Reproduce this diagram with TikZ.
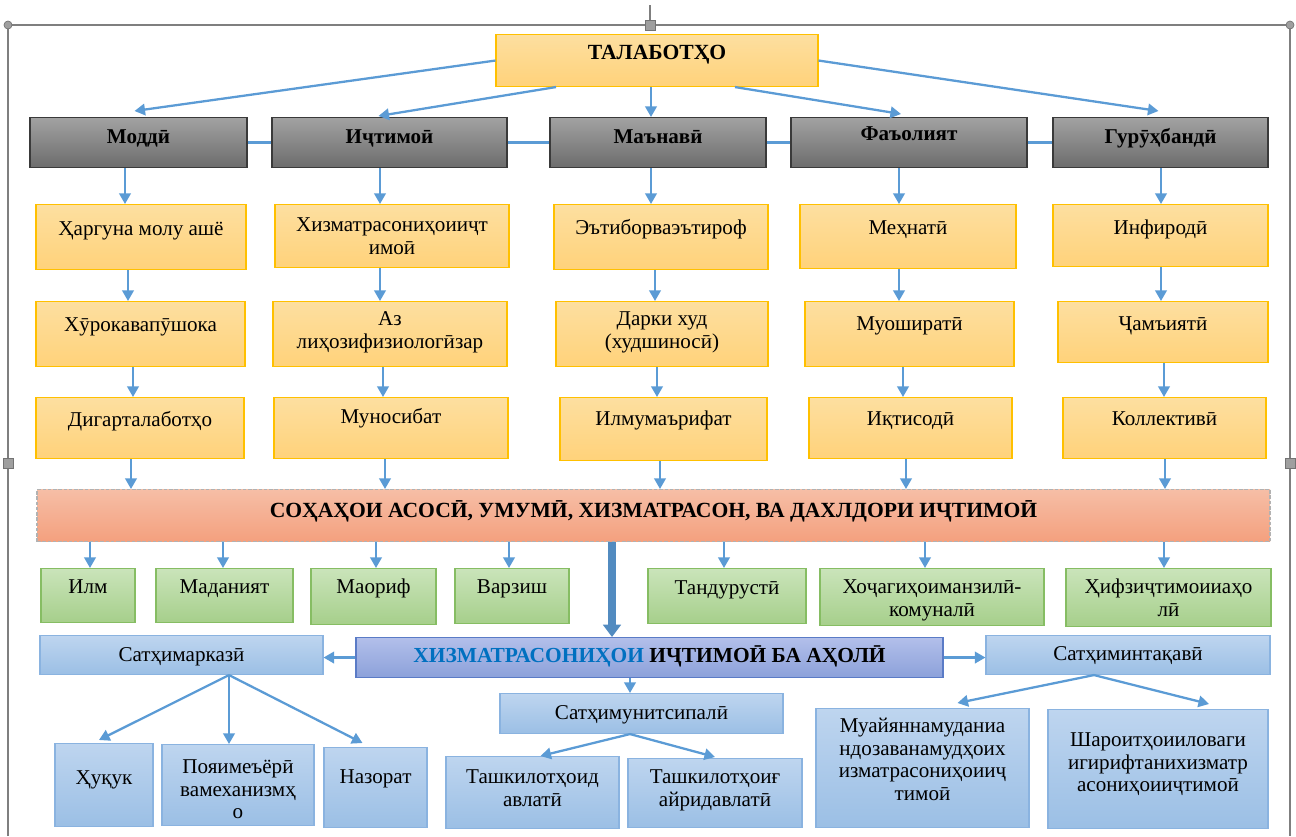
\documentclass[tikz,border=0pt]{standalone}
\usepackage{fontspec}
\setmainfont{Liberation Serif}
\usetikzlibrary{arrows.meta,calc}
\definecolor{conn}{HTML}{5B9BD5}
\definecolor{ytop}{HTML}{FDDFA0}
\definecolor{ybot}{HTML}{FFD27A}
\definecolor{ybord}{HTML}{FFC000}
\definecolor{gtop}{HTML}{A2A2A2}
\definecolor{gbot}{HTML}{6C6C6C}
\definecolor{gbord}{HTML}{3A3A3A}
\definecolor{otop}{HTML}{F6BEA6}
\definecolor{obot}{HTML}{F4A07E}
\definecolor{grtop}{HTML}{CAE4BA}
\definecolor{grbot}{HTML}{A6CF8B}
\definecolor{grbord}{HTML}{86BD63}
\definecolor{ctop}{HTML}{B2BFEA}
\definecolor{cbot}{HTML}{8CA1DA}
\definecolor{cbord}{HTML}{5A7BC6}
\definecolor{ctext}{HTML}{0070C0}
\definecolor{btop}{HTML}{BED5EF}
\definecolor{bbot}{HTML}{9BBFE5}
\definecolor{bbord}{HTML}{8AB3E0}
\definecolor{frame}{HTML}{7F7F7F}
\newcommand\ml[1]{\begin{tabular}[t]{@{}c@{}}#1\end{tabular}}
\newcommand\bx[8]{%
  \pgfmathsetlengthmacro\bxw{(#5-(#3))*0.02cm}%
  \pgfmathsetlengthmacro\bxh{(#7-(#4))*0.02cm}%
  \pgfmathsetlengthmacro\bxd{(#6-(#7))*0.02cm}%
  \node[#1,anchor=north,minimum width=\bxw,text height=\bxh,text depth=\bxd,inner ysep=0pt,inner xsep=1pt] (#2) at ({(#3+#5)/2},#4) {#8};}
\newcommand\va[3]{\draw[arr] (#1.south -| #3,0) -- (#2.north -| #3,0);}
\tikzset{
  base/.style={draw,line width=0.6pt,font=\fontsize{12}{12.8}\selectfont},
  ybox/.style={base,draw=ybord,top color=ytop,bottom color=ybot},
  tbox/.style={ybox,font=\bfseries\fontsize{12.3}{14}\selectfont},
  gbox/.style={base,draw=gbord,top color=gtop,bottom color=gbot,font=\bfseries\fontsize{12}{12.5}\selectfont},
  obox/.style={base,draw=gray!60,dash pattern=on 2pt off 1pt,top color=otop,bottom color=obot,font=\bfseries\fontsize{12.3}{14}\selectfont},
  grbox/.style={base,draw=grbord,top color=grtop,bottom color=grbot},
  cbox/.style={base,draw=cbord,top color=ctop,bottom color=cbot,font=\bfseries\fontsize{12.2}{14}\selectfont},
  bbox/.style={base,draw=bbord,top color=btop,bottom color=bbot},
  arr/.style={draw=conn,line width=1.3pt,-{Triangle[length=6pt,width=6.5pt]}},
  bigarr/.style={draw=conn!90!black,line width=4.2pt,-{Triangle[length=7pt,width=10pt]}},
  link/.style={draw=conn,line width=1.3pt},
  frameline/.style={draw=frame,line width=0.9pt},
  handle/.style={fill=gray!75,draw=gray!90!black,line width=0.4pt}
}
\begin{document}
\begin{tikzpicture}[x=0.02cm,y=-0.02cm]
\useasboundingbox (0,0) rectangle (1296,836);
% canvas frame with handles
\draw[frameline] (8,836) -- (8,25) -- (1290,25) -- (1290,836);
\draw[draw=frame,line width=0.6pt] (650,5) -- (650,25);
\filldraw[handle] (8,25) circle (4);
\filldraw[handle] (1290,25) circle (4);
\filldraw[handle] (645,20) rectangle (655,30);
\filldraw[handle] (3,458) rectangle (13,468);
\filldraw[handle] (1285,458) rectangle (1295,468);
% title
\bx{tbox}{t}{496}{34}{818}{86}{59}{ТАЛАБОТҲО}
% grey row
\bx{gbox}{m1}{30}{117}{247}{167}{143}{Моддӣ}
\bx{gbox}{m2}{272}{117}{507}{167}{143}{Иҷтимоӣ}
\bx{gbox}{m3}{550}{117}{766}{167}{143}{Маънавӣ}
\bx{gbox}{m4}{791}{117}{1027}{167}{140}{Фаъолият}
\bx{gbox}{m5}{1053}{117}{1268}{167}{143}{Гурӯҳбандӣ}
% yellow columns
\bx{ybox}{a1}{36}{204}{246}{269}{235}{Ҳаргуна молу ашё}
\bx{ybox}{a2}{36}{301}{245}{366}{331}{Хӯрокавапӯшока}
\bx{ybox}{a3}{36}{397}{244}{458}{426}{Дигарталаботҳо}
\bx{ybox}{b1}{275}{204}{509}{267}{231}{\ml{Хизматрасониҳоииҷт\\имоӣ}}
\bx{ybox}{b2}{273}{301}{507}{366}{325}{\ml{Аз\\лиҳозифизиологӣзар}}
\bx{ybox}{b3}{274}{397}{508}{458}{423}{Муносибат}
\bx{ybox}{c1}{554}{204}{768}{269}{234}{Эътиборваэътироф}
\bx{ybox}{c2}{556}{301}{768}{366}{325}{\ml{Дарки худ\\(худшиносӣ)}}
\bx{ybox}{c3}{560}{397}{767}{460}{425}{Илмумаърифат}
\bx{ybox}{d1}{800}{204}{1016}{268}{234}{Меҳнатӣ}
\bx{ybox}{d2}{805}{301}{1014}{366}{330}{Муоширатӣ}
\bx{ybox}{d3}{809}{397}{1012}{458}{425}{Иқтисодӣ}
\bx{ybox}{e1}{1053}{204}{1268}{266}{234}{Инфиродӣ}
\bx{ybox}{e2}{1058}{301}{1268}{362}{330}{Ҷамъиятӣ}
\bx{ybox}{e3}{1063}{397}{1266}{458}{425}{Коллективӣ}
% orange bar
\bx{obox}{bar}{37}{489}{1270}{541}{517}{СОҲАҲОИ АСОСӢ, УМУМӢ, ХИЗМАТРАСОН, ВА ДАХЛДОРИ ИҶТИМОӢ}
% green row
\bx{grbox}{g1}{41}{568}{135}{622}{593}{Илм}
\bx{grbox}{g2}{156}{568}{293}{622}{593}{Маданият}
\bx{grbox}{g3}{311}{568}{436}{624}{593}{Маориф}
\bx{grbox}{g4}{455}{568}{569}{623}{593}{Варзиш}
\bx{grbox}{g5}{648}{568}{806}{623}{594}{Тандурустӣ}
\bx{grbox}{g6}{820}{568}{1044}{625}{593}{\ml{Хоҷагиҳоиманзилӣ-\\комуналӣ}}
\bx{grbox}{g7}{1066}{568}{1271}{626}{593}{\ml{Ҳифзиҷтимоииаҳо\\лӣ}}
% blue part
\bx{cbox}{hz}{356}{637}{943}{677}{662}{{\color{ctext}ХИЗМАТРАСОНИҲОИ} ИҶТИМОӢ БА АҲОЛӢ}
\bx{bbox}{s1}{40}{635}{323}{674}{661}{Сатҳимарказӣ}
\bx{bbox}{s3}{986}{635}{1270}{674}{660}{Сатҳиминтақавӣ}
\bx{bbox}{s2}{500}{693}{783}{733}{719}{Сатҳимунитсипалӣ}
\bx{bbox}{n1}{446}{756}{619}{828}{783}{\ml{Ташкилотҳоид\\авлатӣ}}
\bx{bbox}{n2}{628}{758}{802}{827}{783}{\ml{Ташкилотҳоиғ\\айридавлатӣ}}
\bx{bbox}{k1}{55}{743}{153}{826}{784}{Ҳуқук}
\bx{bbox}{k2}{162}{744}{314}{825}{773}{\ml{Пояимеъёрӣ\\вамеханизмҳ\\о}}
\bx{bbox}{k3}{324}{747}{427}{827}{783}{Назорат}
\bx{bbox}{r1}{816}{708}{1029}{827}{732}{\ml{Муайяннамуданиа\\ндозаванамудҳоих\\изматрасониҳоииҷ\\тимоӣ}}
\bx{bbox}{r2}{1048}{709}{1268}{828}{746}{\ml{Шароитҳоииловаги\\игирифтанихизматр\\асониҳоииҷтимоӣ}}
% title arrows
\draw[arr] (t.west) -- ($(m1.north)+(-4,-6)$);
\draw[arr] (t.south -| 556,0) -- ($(m2.north)+(-11,-1)$);
\draw[arr] (t.south -| 651,0) -- (m3.north -| 651,0);
\draw[arr] (t.south -| 735,0) -- ($(m4.north)+(-8,-3)$);
\draw[arr] (t.east) -- ($(m5.north)+(-2,-6)$);
% links between grey boxes
\draw[link] (m1.east) -- (m2.west);
\draw[link] (m2.east) -- (m3.west);
\draw[link] (m3.east) -- (m4.west);
\draw[link] (m4.east) -- (m5.west);
% column arrows
\va{m1}{a1}{125} \va{a1}{a2}{128} \va{a2}{a3}{133} \va{a3}{bar}{131}
\va{m2}{b1}{380} \va{b1}{b2}{380} \va{b2}{b3}{383} \va{b3}{bar}{385}
\va{m3}{c1}{651} \va{c1}{c2}{655} \va{c2}{c3}{657} \va{c3}{bar}{660}
\va{m4}{d1}{899} \va{d1}{d2}{899} \va{d2}{d3}{903} \va{d3}{bar}{906}
\va{m5}{e1}{1161} \va{e1}{e2}{1161} \va{e2}{e3}{1164} \va{e3}{bar}{1165}
% bar to green
\va{bar}{g1}{90} \va{bar}{g2}{223} \va{bar}{g3}{376} \va{bar}{g4}{509}
\va{bar}{g5}{724} \va{bar}{g6}{925} \va{bar}{g7}{1164}
\draw[bigarr] (bar.south -| 612,0) -- (hz.north -| 612,0);
% centre box arrows
\draw[arr] (hz.west) -- (hz.west -| s1.east);
\draw[arr] (hz.east) -- (hz.east -| s3.west);
\draw[arr] (hz.south -| 630,0) -- (s2.north -| 630,0);
% level children
\draw[arr] (s1.south -| 229,0) -- ($(k1.north)+(-5,-3)$);
\draw[arr] (s1.south -| 229,0) -- (k2.north -| 229,0);
\draw[arr] (s1.south -| 229,0) -- ($(k3.north)+(-13,-4)$);
\draw[arr] (s2.south -| 630,0) -- ($(n1.north)+(8,0)$);
\draw[arr] (s2.south -| 630,0) -- ($(n2.north)+(0,-1)$);
\draw[arr] (s3.south -| 1094,0) -- ($(r1.north)+(35,-5)$);
\draw[arr] (s3.south -| 1094,0) -- ($(r2.north)+(51,-5)$);
\end{tikzpicture}
\end{document}
